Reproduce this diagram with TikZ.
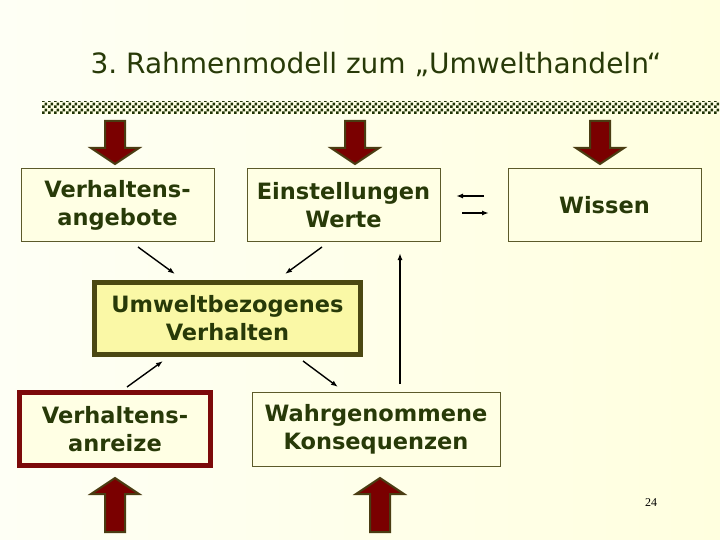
\documentclass[tikz,border=0pt]{standalone}
\usepackage{fontspec}
\setmainfont{DejaVu Sans}
\newfontfamily\numfont{Liberation Serif}
\usetikzlibrary{patterns.meta,arrows.meta}
\definecolor{textgreen}{HTML}{283A08}
\definecolor{boxline}{HTML}{5C5A2A}
\definecolor{boxfill}{HTML}{FFFFE4}
\definecolor{pageleft}{HTML}{FEFFF5}
\definecolor{pageright}{HTML}{FFFFDF}
\definecolor{centrefill}{HTML}{FAF8A6}
\definecolor{centreline}{HTML}{4B4812}
\definecolor{darkred}{HTML}{7C0A0A}
\definecolor{arrowred}{HTML}{7A0000}
\definecolor{arrowrim}{HTML}{4A3C12}
\definecolor{bandcol}{HTML}{1F3305}
\tikzdeclarepattern{name=bandcheck, type=uncolored,
  bottom left={(0pt,0pt)}, top right={(6pt,6pt)}, tile size={(6pt,6pt)},
  code={\fill (0pt,0pt) rectangle (3pt,3pt); \fill (3pt,3pt) rectangle (6pt,6pt);}}
\begin{document}
\begin{tikzpicture}[x=1pt, y=-1pt,
  box/.style={draw=boxline, line width=1pt, fill=boxfill, minimum width=193pt,
    minimum height=73pt, align=center, text=textgreen, inner sep=0pt,
    font=\fontsize{22.5}{28}\selectfont\bfseries},
  conn/.style={-{Latex[length=7pt,width=5pt]}, line width=1.4pt, black},
  pics/bigarrow/.style={code={
    \draw[arrowrim, line width=2pt, fill=arrowred] (-10,-#1) -- (10,-#1) -- (10,-16)
      -- (24,-16) -- (0,0) -- (-24,-16) -- (-10,-16) -- cycle;}}]
  % page and title
  \useasboundingbox (0,0) rectangle (720,540);
  \shade[left color=pageleft, right color=pageright] (0,0) rectangle (720,540);
  \node[font=\fontsize{28}{32}\selectfont, text=textgreen] (title) at (376,64)
    {3.\ Rahmenmodell zum „Umwelthandeln“};
  \fill[boxfill] (42,102) rectangle (720,114);
  \fill[pattern=bandcheck, pattern color=bandcol] (42,102) rectangle (720,114);
  % incoming block arrows
  \pic at (115,164) {bigarrow=43};
  \pic at (355,164) {bigarrow=43};
  \pic at (600,164) {bigarrow=43};
  \pic[rotate=180] at (115,478) {bigarrow=54};
  \pic[rotate=180] at (380,478) {bigarrow=54};
  % boxes
  \node[box] (angebote) at (117.5,205) {Verhaltens-\\angebote};
  \node[box] (werte) at (343.5,205) {Einstellungen\\Werte};
  \node[box] (wissen) at (604.5,205) {Wissen};
  \node[box, fill=centrefill, draw=centreline, line width=5pt, minimum width=266pt,
    minimum height=72pt] (verhalten) at (227.5,318.5) {Umweltbezogenes\\Verhalten};
  \node[box, draw=darkred, line width=5pt, minimum width=191pt, minimum height=73pt]
    (anreize) at (115,429) {Verhaltens-\\anreize};
  \node[box, minimum width=248pt, minimum height=74pt] (konsequenzen) at (376,429)
    {Wahrgenommene\\Konsequenzen};
  \node[font=\numfont\fontsize{12}{14}\selectfont] (page) at (651,503) {24};
  % connector ends
  \coordinate (angebote-out) at (138,247);
  \coordinate (angebote-in) at (175,274);
  \coordinate (werte-out) at (322,247);
  \coordinate (werte-in) at (285,274);
  \coordinate (anreize-out) at (127,387);
  \coordinate (anreize-in) at (163,361);
  \coordinate (verhalten-out) at (303,361);
  \coordinate (konsequenzen-in) at (338,387);
  \coordinate (konsequenzen-out) at (400,384);
  \coordinate (werte-back) at (400,253);
  \coordinate (wissen-out) at (484,196);
  \coordinate (werte-left) at (456,196);
  \coordinate (werte-right) at (462,213);
  \coordinate (wissen-in) at (489,213);
  % connectors
  \draw[conn] (angebote-out) -- (angebote-in);
  \draw[conn] (werte-out) -- (werte-in);
  \draw[conn] (anreize-out) -- (anreize-in);
  \draw[conn] (verhalten-out) -- (konsequenzen-in);
  \draw[conn] (konsequenzen-out) -- (werte-back);
  \draw[conn] (wissen-out) -- (werte-left);
  \draw[conn] (werte-right) -- (wissen-in);
\end{tikzpicture}
\end{document}
